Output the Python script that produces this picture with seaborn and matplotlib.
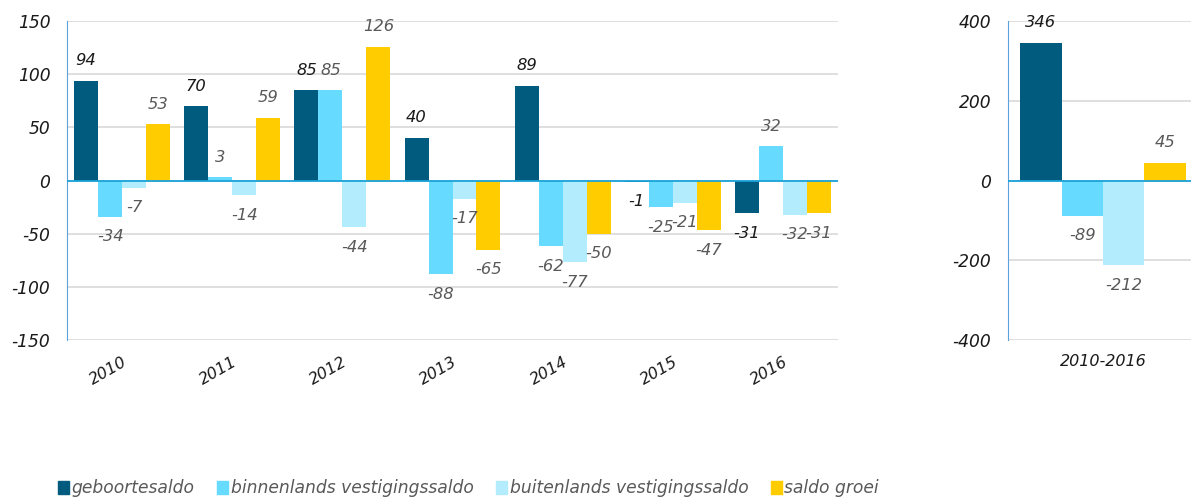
import pandas as pd
import matplotlib.pyplot as plt
import seaborn as sns
import numpy as np

years = ['2010', '2011', '2012', '2013', '2014', '2015', '2016']
series = ['geboortesaldo', 'binnenlands vestigingssaldo', 'buitenlands vestigingssaldo', 'saldo groei']
geboorte = [94, 70, 85, 40, 89, -1, -31]
binnen = [-34, 3, 85, -88, -62, -25, 32]
buiten = [-7, -14, -44, -17, -77, -21, -32]
groei = [53, 59, 126, -65, -50, -47, -31]
totaal_label = ['2010-2016']
totaal = [346, -89, -212, 45]

colors = ['#005B7F', '#66DAFF', '#B3ECFC', '#FFCC00']
txtcol = ['#1a1a1a', '#595959', '#595959', '#595959']

plt.rcParams['axes.unicode_minus'] = False

df = pd.DataFrame({'jaar': years * 4,
                   'reeks': np.repeat(series, len(years)),
                   'waarde': geboorte + binnen + buiten + groei})
df_tot = pd.DataFrame({'jaar': totaal_label * 4, 'reeks': series, 'waarde': totaal})

fig = plt.figure(figsize=(11.91, 4.98), dpi=100)
ax1 = fig.add_axes([67/1191, 1-340/498, (838-67)/1191, 319/498])
ax2 = fig.add_axes([1008/1191, 1-340/498, (1198-1008)/1191, 319/498])

sns.barplot(data=df, x='jaar', y='waarde', hue='reeks', palette=colors, width=0.87,
            ax=ax1, legend=False, saturation=1)
sns.barplot(data=df_tot, x='jaar', y='waarde', hue='reeks', palette=colors, width=0.87,
            ax=ax2, legend=False, saturation=1)

def style(ax, lim, step):
    ax.set_ylim(-lim, lim)
    ax.set_yticks(np.arange(-lim, lim + 1, step))
    ax.set_xlabel('')
    ax.set_ylabel('')
    ax.grid(axis='y', color='#D9D9D9', linewidth=1.2, zorder=0)
    ax.set_axisbelow(True)
    for s in ['top', 'right', 'bottom']:
        ax.spines[s].set_visible(False)
    ax.spines['left'].set_color('#5BA3DC')
    ax.axhline(0, color='#1AA3D9', linewidth=1.3, zorder=3)
    ax.tick_params(axis='y', length=0, labelsize=12.3, pad=12)
    ax.tick_params(axis='x', length=0, labelsize=11.5, pad=10)
    for t in ax.get_yticklabels() + ax.get_xticklabels():
        t.set_fontstyle('italic')
        t.set_color('#1a1a1a')

style(ax1, 150, 50)
style(ax2, 400, 200)
ax1.set_xlim(-0.5, 6.5)
for t in ax1.get_xticklabels():
    t.set_rotation(30)
    t.set_ha('right')
    t.set_rotation_mode('anchor')

for ax in [ax1, ax2]:
    for i, cont in enumerate(ax.containers):
        ax.bar_label(cont, fmt='%d', padding=9, fontsize=11.8, fontstyle='italic',
                     color=txtcol[i])

handles = [plt.Rectangle((0, 0), 1, 1, color=c) for c in colors]
leg = fig.legend(handles, series, loc='center left', bbox_to_anchor=(0.036, 0.02), ncol=4,
                 frameon=False, handlelength=0.65, handleheight=0.8, handletextpad=0.15,
                 columnspacing=1.3, fontsize=12.3)
for t in leg.get_texts():
    t.set_fontstyle('italic')
    t.set_color('#595959')

fig.savefig('out.png', dpi=100)
